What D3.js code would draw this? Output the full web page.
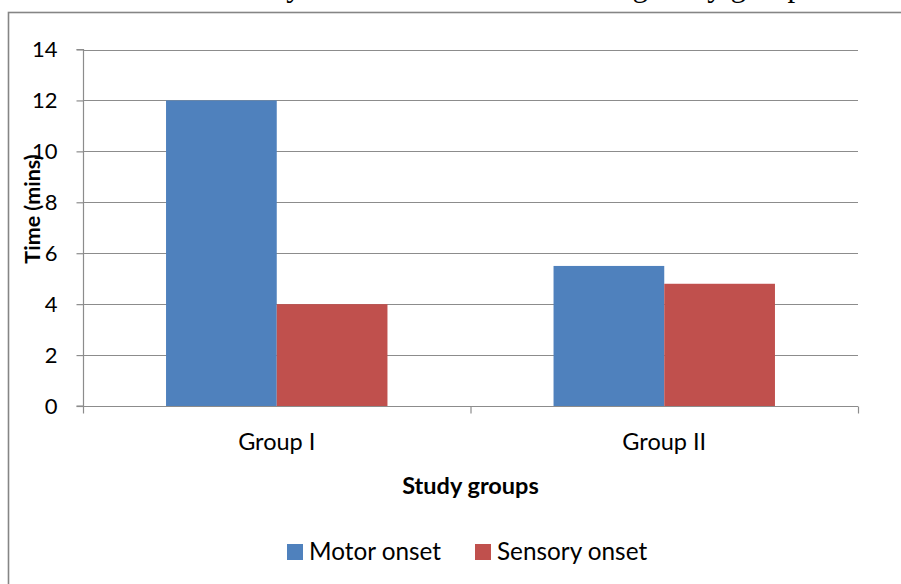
<!DOCTYPE html>
<html>
<head>
<meta charset="utf-8">
<script src="https://cdn.jsdelivr.net/npm/d3@7"></script>
<style>
  html, body { margin: 0; padding: 0; background: #fff; }
  svg { display: block; }
</style>
</head>
<body>
<svg id="chart" width="901" height="584"></svg>
<script>
const groups = ["Group I", "Group II"];
const seriesNames = ["Motor onset", "Sensory onset"];
const motorOnset = [12, 5.5];
const sensoryOnset = [4, 4.8];
const yTicks = [0, 2, 4, 6, 8, 10, 12, 14];
const colors = ["#4F81BD", "#C0504D"];
const titleText = "Time of onset of sensory and motor blockade among study groups";

const seriesValues = [motorOnset, sensoryOnset];
const rows = groups.map((g, i) => ({ group: g, values: seriesNames.map((s, j) => ({ series: s, value: seriesValues[j][i], idx: j })) }));

const svg = d3.select("#chart");
const font = "Lato, 'Open Sans', sans-serif";

// clipped title from the surrounding document (only descenders visible)
svg.append("text")
  .attr("x", 815).attr("y", -4)
  .attr("text-anchor", "end")
  .attr("font-family", "'Liberation Serif', 'Times New Roman', serif")
  .attr("font-size", 31)
  .attr("fill", "#000")
  .text(titleText);

// chart frame (extends beyond the visible area)
svg.append("rect")
  .attr("x", 8.5).attr("y", 12.5)
  .attr("width", 1000).attr("height", 700)
  .attr("fill", "none")
  .attr("stroke", "#858585")
  .attr("stroke-width", 1.6);

const pLeft = 83, pRight = 858, pTop = 49.5, pBottom = 406;

const x0 = d3.scaleBand().domain(groups).range([pLeft, pRight]).padding(0);
const x1 = d3.scaleBand().domain(seriesNames).range([0, x0.bandwidth()]).paddingInner(0).paddingOuter(0.75);
const y = d3.scaleLinear().domain([0, 14]).range([pBottom, pTop]);

// gridlines
svg.append("g").selectAll("line").data(yTicks.filter(t => t > 0)).join("line")
  .attr("x1", pLeft).attr("x2", pRight)
  .attr("y1", d => Math.round(y(d)) + 0.5).attr("y2", d => Math.round(y(d)) + 0.5)
  .attr("stroke", "#8c8c8c").attr("stroke-width", 1.2);

// bars
svg.append("g").selectAll("g").data(rows).join("g")
  .attr("transform", d => `translate(${x0(d.group)},0)`)
  .selectAll("rect").data(d => d.values).join("rect")
  .attr("x", d => x1(d.series))
  .attr("y", d => y(d.value))
  .attr("width", x1.bandwidth())
  .attr("height", d => y(0) - y(d.value))
  .attr("fill", d => colors[d.idx]);

// y axis
const yAxis = d3.axisLeft(y).tickValues(yTicks).tickSize(7).tickPadding(19).tickFormat(d3.format("d"));
const gy = svg.append("g").attr("transform", `translate(${pLeft + 0.5},0)`).call(yAxis);
gy.select(".domain").attr("stroke", "#8c8c8c").attr("stroke-width", 1.2).attr("d", `M-7,${y(0)}H0V${y(14)}H-7`);
gy.selectAll(".tick line").attr("stroke", "#8c8c8c").attr("stroke-width", 1.2);
gy.selectAll(".tick text").attr("font-family", font).attr("font-size", 22).attr("fill", "#000");

// x axis
const xAxis = d3.axisBottom(x0).tickSize(0).tickPadding(27);
const gx = svg.append("g").attr("transform", `translate(0,${Math.round(pBottom) + 0.5})`).call(xAxis);
gx.select(".domain").attr("stroke", "#8c8c8c").attr("stroke-width", 1.2).attr("d", `M${pLeft},0H${pRight}`);
gx.selectAll(".tick text").attr("font-family", font).attr("font-size", 23.5).attr("fill", "#000");
// category boundary tick marks
const bounds = [pLeft, x0(groups[1]), pRight];
gx.append("g").selectAll("line").data(bounds).join("line")
  .attr("x1", d => d + 0.5).attr("x2", d => d + 0.5)
  .attr("y1", 0).attr("y2", 7)
  .attr("stroke", "#8c8c8c").attr("stroke-width", 1.2);

// axis titles
svg.append("text")
  .attr("x", (pLeft + pRight) / 2).attr("y", 494)
  .attr("text-anchor", "middle")
  .attr("font-family", font).attr("font-weight", "bold").attr("font-size", 23.5)
  .text("Study groups");

svg.append("text")
  .attr("transform", `translate(40,209) rotate(-90)`)
  .attr("text-anchor", "middle")
  .attr("font-family", font).attr("font-weight", "bold").attr("font-size", 21.5)
  .text("Time (mins)");

// legend
const legendX = [287, 475];
const lg = svg.append("g").selectAll("g").data(seriesNames).join("g")
  .attr("transform", (d, i) => `translate(${legendX[i]},544)`);
lg.append("rect").attr("width", 16).attr("height", 16).attr("fill", (d, i) => colors[i]);
lg.append("text").attr("x", 22).attr("y", 15.5)
  .attr("font-family", font).attr("font-size", 24.3).attr("fill", "#000")
  .text(d => d);
</script>
</body>
</html>
